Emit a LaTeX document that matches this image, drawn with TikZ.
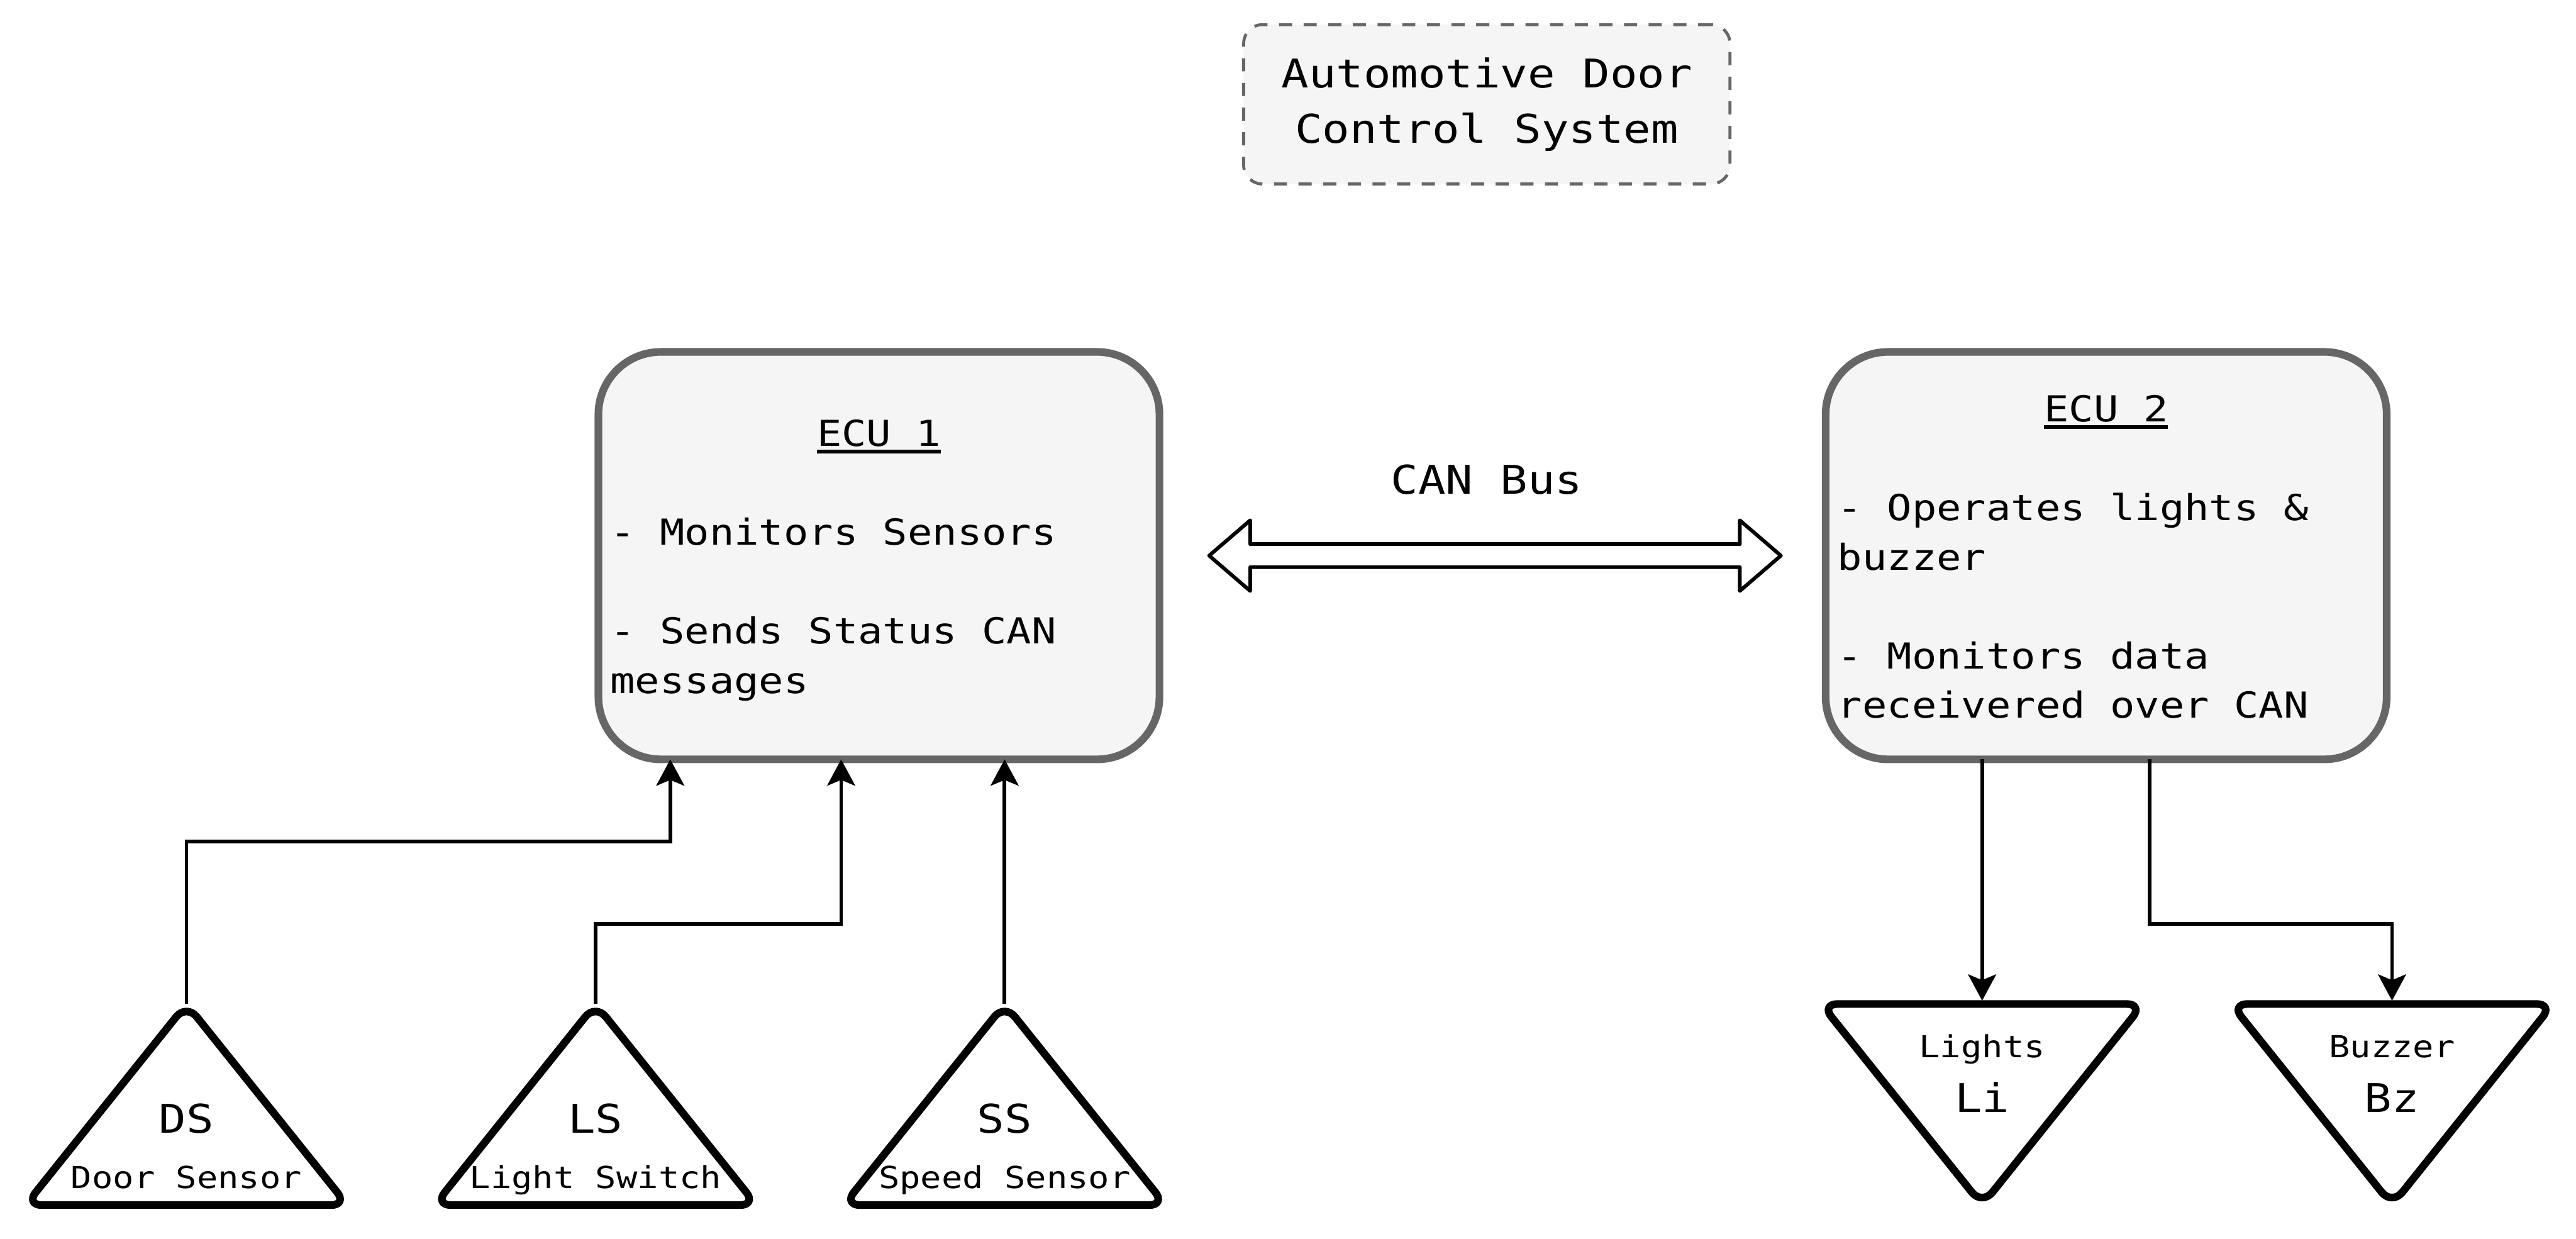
\documentclass[tikz,border=0pt]{standalone}
\usepackage{fontspec}
\setmainfont{DejaVu Sans Mono}[FakeStretch=1.15]
\usetikzlibrary{arrows.meta}
\definecolor{boxfill}{HTML}{F5F5F5}
\definecolor{boxline}{HTML}{666666}
\tikzset{>={Stealth[length=0.32cm,width=0.34cm,inset=0.07cm]}}
\newcommand\ecuhead[1]{{\setbox0\hbox{#1}\rlap{\rule[-2.4pt]{\wd0}{1.3pt}}\box0}}
\newcommand\ecustrut{\rule[-0.21\baselineskip]{0pt}{\baselineskip}}

\begin{document}
\begin{tikzpicture}[
    bigtxt/.style={font=\fontsize{13.7}{19.1}\selectfont},
    smalltxt/.style={font=\fontsize{10.5}{12.6}\selectfont},
    titlebox/.style={draw=boxline, fill=boxfill, line width=0.036cm, dash pattern=on 0.16cm off 0.14cm,
        rounded corners=0.23cm, minimum width=5.92cm, minimum height=1.94cm, align=center, bigtxt},
    ecu/.style={draw=boxline, fill=boxfill, line width=0.093cm, rounded corners=0.76cm,
        minimum width=6.83cm, minimum height=4.96cm, text width=6.54cm, inner xsep=0.145cm,
        outer sep=0pt, align=flush left, font=\fontsize{12.4}{17.1}\selectfont},
    devbox/.style={minimum width=3.92cm, minimum height=2.448cm, inner sep=0pt, outer sep=0pt},
    tri/.style={draw, fill=white, line width=0.093cm, rounded corners=0.2cm, line join=round},
    link/.style={->, line width=0.045cm},
    bus/.style={draw, fill=white, line width=0.045cm, line join=round}
]
\useasboundingbox (0,0) rectangle (31.36,-15.08);

% heading
\node[titlebox] (title) at (18.10,-1.27) {Automotive Door\\Control System};

% control units
\node[ecu] (ecu1) at (10.70,-6.764) {\spaceskip=0pt\xspaceskip=0pt
    \hfill\ecuhead{ECU 1}\ecustrut\hfill\null\\[\baselineskip]
    - Monitors Sensors\\[\baselineskip]
    - Sends Status CAN\\messages\ecustrut};
\node[ecu] (ecu2) at (25.64,-6.764) {\spaceskip=0pt\xspaceskip=0pt
    \hfill\ecuhead{ECU 2}\ecustrut\hfill\null\\[\baselineskip]
    - Operates lights \&\\buzzer\\[\baselineskip]
    - Monitors data\\receivered over CAN\ecustrut};

% CAN bus
\coordinate (busL) at ([xshift=0.605cm]ecu1.east);
\coordinate (busR) at ([xshift=-0.545cm]ecu2.west);
\draw[bus] (busL) -- ++(0.5,0.43) -- ++(0,-0.29) -- ([shift={(-0.5,0.14)}]busR) -- ++(0,0.29) -- (busR)
    -- ++(-0.5,-0.43) -- ++(0,0.29) -- ([shift={(0.5,-0.14)}]busL) -- ++(0,-0.29) -- cycle;
\node[bigtxt] (canbus) at (18.10,-5.84) {CAN Bus};

% sensors and outputs
\node[devbox] (ds) at (2.27,-13.446) {};
\node[devbox] (ls) at (7.25,-13.446) {};
\node[devbox] (ss) at (12.23,-13.446) {};
\node[devbox] (li) at (24.13,-13.446) {};
\node[devbox] (bz) at (29.12,-13.446) {};

\foreach \n in {ds,ls,ss}
    \draw[tri] (\n.south west) -- (\n.north) -- (\n.south east) -- cycle;
\foreach \n in {li,bz}
    \draw[tri] (\n.north west) -- (\n.south) -- (\n.north east) -- cycle;

\foreach \n/\s/\l in {ds/DS/Door Sensor, ls/LS/Light Switch, ss/SS/Speed Sensor} {
    \node[bigtxt, anchor=base] (\n-name) at ([yshift=0.878cm]\n.south) {\s};
    \node[smalltxt, anchor=base] (\n-text) at ([yshift=0.204cm]\n.south) {\l};
}
\foreach \n/\s/\l in {li/Li/Lights, bz/Bz/Buzzer} {
    \node[smalltxt, anchor=base] (\n-text) at ([yshift=-0.652cm]\n.north) {\l};
    \node[bigtxt, anchor=base] (\n-name) at ([yshift=-1.32cm]\n.north) {\s};
}

% wiring
\draw[link] (ds.north) -- ++(0,1.976) -| ([xshift=-2.54cm]ecu1.south);
\draw[link] (ls.north) -- ++(0,0.976) -| ([xshift=-0.46cm]ecu1.south);
\draw[link] (ss.north) -- (ss.north |- ecu1.south);
\draw[link, shorten >=0.04cm] (li.north |- ecu2.south) -- (li.north);
\draw[link, shorten >=0.04cm] ([xshift=0.53cm]ecu2.south) -- ++(0,-2.0) -| (bz.north);
\end{tikzpicture}
\end{document}
